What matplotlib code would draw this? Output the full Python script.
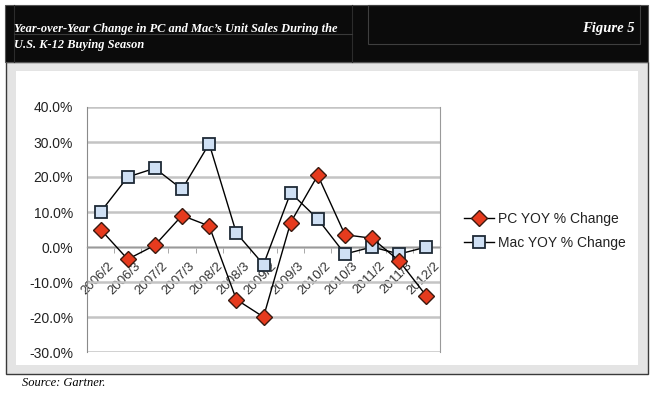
import matplotlib
matplotlib.use("Agg")
import matplotlib.pyplot as plt
import matplotlib.transforms as mtransforms
from matplotlib.patches import Rectangle
from matplotlib.lines import Line2D
from matplotlib.ticker import FuncFormatter, MultipleLocator

categories = ["2006/2", "2006/3", "2007/2", "2007/3", "2008/2", "2008/3", "2009/2",
              "2009/3", "2010/2", "2010/3", "2011/2", "2011/3", "2012/2"]
pc_yoy = [5.0, -3.5, 0.5, 9.0, 6.0, -15.0, -20.0, 7.0, 20.5, 3.5, 2.5, -4.0, -14.0]
mac_yoy = [10.0, 20.0, 22.5, 16.5, 29.5, 4.0, -5.0, 15.5, 8.0, -2.0, 0.0, -2.0, 0.0]
series_labels = ["PC YOY % Change", "Mac YOY % Change"]
title_lines = ["Year-over-Year Change in PC and Mac\u2019s Unit Sales During the",
               "U.S. K-12 Buying Season"]
figure_label = "Figure 5"
source_text = "Source: Gartner."

W, H = 653, 398
fig = plt.figure(figsize=(W / 100, H / 100), dpi=100)
fig.patch.set_facecolor("white")

def fx(x):
    return x / W

def fy(y):
    return 1 - y / H

def rect(x0, y0, x1, y1, **kw):
    fig.patches.append(Rectangle((fx(x0), fy(y1)), fx(x1) - fx(x0), fy(y0) - fy(y1),
                                 transform=fig.transFigure, figure=fig, **kw))

def line(x0, y0, x1, y1, **kw):
    fig.lines.append(Line2D([fx(x0), fx(x1)], [fy(y0), fy(y1)],
                            transform=fig.transFigure, figure=fig, **kw))

# panel
rect(6, 62, 648, 374, facecolor="#e4e4e4", edgecolor="#3a3a3a", lw=1.0, zorder=0)
rect(16, 71, 638, 365, facecolor="white", edgecolor="none", zorder=0.5)
# header
rect(5, 5, 648, 62, facecolor="#0b0b0b", edgecolor="#555555", lw=0.8, zorder=1)
line(14, 5, 14, 62, color="#2c2c2c", lw=0.8, zorder=1.5)
line(352, 5, 352, 62, color="#2c2c2c", lw=0.8, zorder=1.5)
line(14, 34, 352, 34, color="#3a3a3a", lw=0.8, zorder=1.5)
rect(368, 5, 640, 44, facecolor="none", edgecolor="#3f3f3f", lw=0.8, zorder=1.5)

serif = ["Liberation Serif", "DejaVu Serif"]
fig.text(fx(14), fy(32), title_lines[0], color="white", fontsize=8.9, family=serif,
         style="italic", weight="bold", ha="left", va="baseline", zorder=2)
fig.text(fx(14), fy(48), title_lines[1], color="white", fontsize=8.9, family=serif,
         style="italic", weight="bold", ha="left", va="baseline", zorder=2)
fig.text(fx(635), fy(32), figure_label, color="white", fontsize=10.5, family=serif,
         style="italic", weight="bold", ha="right", va="baseline", zorder=2)
fig.text(fx(22), fy(386), source_text, color="black", fontsize=9, family=serif,
         style="italic", ha="left", va="baseline")

# axes
ax_l, ax_r, ax_t, ax_b = 87, 440, 107, 352
ax = fig.add_axes([fx(ax_l), fy(ax_b), fx(ax_r) - fx(ax_l), fy(ax_t) - fy(ax_b)])
ax.set_facecolor("white")
ax.set_zorder(3)

x = list(range(len(categories)))
pc_line, = ax.plot(x, pc_yoy, color="black", lw=1.0, marker="D", markersize=8.2,
                   markerfacecolor="#e63b1e", markeredgecolor="#3a1a10", markeredgewidth=1.0,
                   zorder=4)
mac_line, = ax.plot(x, mac_yoy, color="black", lw=1.0, marker="s", markersize=8.6,
                    markerfacecolor="#cfe0f4", markeredgecolor="#1e2a36", markeredgewidth=1.3,
                    zorder=3)

ax.set_xlim(-0.5, len(categories) - 0.5)
ax.set_ylim(-30, 40)
ax.yaxis.set_major_locator(MultipleLocator(10))
ax.yaxis.set_major_formatter(FuncFormatter(lambda v, p: f"{v:.1f}%"))
ax.grid(axis="y", color="#c4c4c4", lw=1.8, zorder=0)
ax.set_axisbelow(True)

ax.spines["top"].set_visible(False)
ax.spines["left"].set_color("#8a8a8a")
ax.spines["right"].set_color("#9a9a9a")
ax.spines["bottom"].set_position(("data", 0))
ax.spines["bottom"].set_color("#9a9a9a")
ax.spines["bottom"].set_linewidth(1.0)

ax.set_xticks(x)
ax.set_xticklabels(categories, rotation=45, ha="right", va="top", rotation_mode="anchor",
                   fontsize=9.5, color="#333333", family="Liberation Sans")
ax.tick_params(axis="x", which="major", length=0, pad=9)
offset = mtransforms.ScaledTranslation(5 / 72, 0, fig.dpi_scale_trans)
for t in ax.get_xticklabels():
    t.set_transform(t.get_transform() + offset)
ax.set_xticks([i + 0.5 for i in x[:-1]], minor=True)
ax.tick_params(axis="x", which="minor", length=4, direction="out", color="#9a9a9a")
ax.tick_params(axis="y", length=0, pad=10, labelsize=10, labelcolor="#222222")
for t in ax.get_yticklabels():
    t.set_family("Liberation Sans")

leg = fig.legend([pc_line, mac_line], series_labels, loc="center left",
                 bbox_to_anchor=(fx(451), fy(231)), frameon=False,
                 prop={"family": "Liberation Sans", "size": 10}, handlelength=2.2,
                 handletextpad=0.3, labelspacing=0.75)
for t in leg.get_texts():
    t.set_color("#222222")

fig.savefig("out.png", dpi=100)
